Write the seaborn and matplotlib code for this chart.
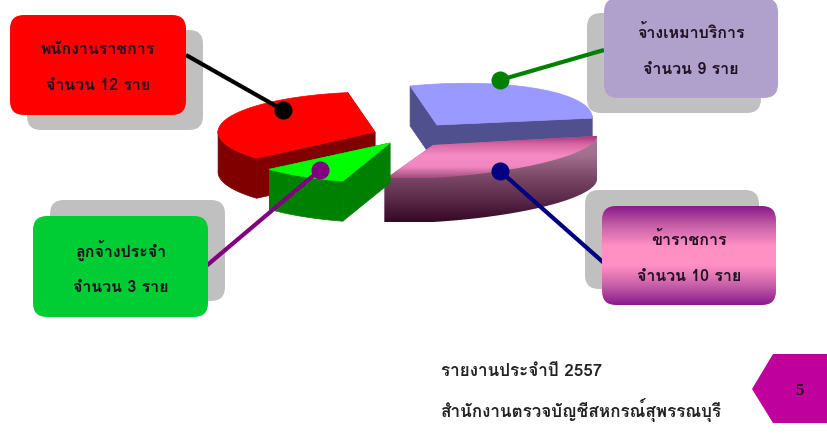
import numpy as np
import matplotlib
matplotlib.use('Agg')
import matplotlib.pyplot as plt
from matplotlib import font_manager
from matplotlib.colors import LinearSegmentedColormap
from matplotlib.patches import FancyBboxPatch, Polygon
import seaborn as sns

# data
groups = ['จ้างเหมาบริการ', 'ข้าราชการ', 'ลูกจ้างประจำ', 'พนักงานราชการ']
counts = [9, 10, 3, 12]
count_labels = ['จำนวน 9 ราย', 'จำนวน 10 ราย', 'จำนวน 3 ราย', 'จำนวน 12 ราย']
footer_lines = ['รายงานประจำปี 2557', 'สำนักงานตรวจบัญชีสหกรณ์สุพรรณบุรี']
page_number = '5'

sns.set_theme(style='white')

# pick a font that has thai, if there is one
thai_font = None
for f in font_manager.fontManager.ttflist:
    if any(k in f.name for k in ['Thai', 'Loma', 'Garuda', 'Norasi', 'Tlwg', 'Sarabun']):
        thai_font = f.name
        break
families = ([thai_font] if thai_font else []) + ['Noto Sans', 'DejaVu Sans']
plt.rcParams['font.family'] = families

fig = plt.figure(figsize=(8.28, 4.4), dpi=100)
ax = fig.add_axes([0, 0, 1, 1])
ax.axis('off')


def rim(cx, cy, rx, ry, tilt, a0, a1):
    t = np.radians(np.linspace(a0, a1, 80))
    x = rx * np.cos(t)
    return np.column_stack([cx + x, cy + ry * np.sin(t) + tilt * x])


def fill_grad(poly, cmap, y0, y1, z):
    # vertical gradient clipped to a polygon
    patch = Polygon(poly, closed=True, fc='none', ec='none', transform=ax.transData)
    ax.add_patch(patch)
    im = ax.imshow(np.linspace(0, 1, 256).reshape(-1, 1), cmap=cmap, aspect='auto',
                   extent=[poly[:, 0].min() - 1, poly[:, 0].max() + 1, y1, y0], zorder=z)
    im.set_clip_path(patch)


def wedge(cx, cy, rx, ry, tilt, h, a0, a1):
    arc = rim(cx, cy, rx, ry, tilt, a0, a1)
    down = np.array([0, h])
    faces = []
    # the two cut faces
    for p in (arc[0], arc[-1]):
        faces.append(np.array([[cx, cy], p, p + down, [cx, cy + h]]))
    # outer edge, only the front half shows
    front = arc[np.sin(np.radians(np.linspace(a0, a1, 80))) > -0.05]
    if len(front):
        faces.append(np.vstack([front, (front + down)[::-1]]))
    top_poly = np.vstack([[[cx, cy]], arc])
    return faces, top_poly


start = 266
back_lean = 6  # perspective: the edge at the back leans to the left
cuts = np.cumsum([0] + counts) / sum(counts) * 360 + start
pal = sns.color_palette(['#9999ff', '#ff88c0', '#00ff00', '#ff0000'])
side_cols = ['#50508f', '#7a4060', '#008000', '#800000']
# cx, cy, rx, ry, tilt, height
shapes = [(437, 125, 155, 41, -0.05, 40), (433, 145, 164, 33, -0.06, 44),
          (390, 143, 160, 40, 0, 40), (375, 132, 157, 40, 0, 40)]

pink_top = LinearSegmentedColormap.from_list('pt', ['#98246a', '#d868a4', '#f58ac4', '#f088c0', '#a04c7c'])
pink_side = LinearSegmentedColormap.from_list('ps', ['#a87a96', '#a0708e', '#7a4866', '#5a2a48', '#340824'])

# back to front: red, blue, pink, green
for z, i in zip([3, 4, 5, 6], [3, 0, 1, 2]):
    cx, cy, rx, ry, tilt, h = shapes[i]
    a0 = cuts[i] - (back_lean if i == 0 else 0)
    a1 = cuts[i + 1] - (back_lean if i == 3 else 0)
    faces, top_poly = wedge(cx, cy, rx, ry, tilt, h, a0, a1)
    if i == 1:
        for f in faces:
            fill_grad(f, pink_side, 133, 222, z)
        fill_grad(top_poly, pink_top, 133, 178, z + 0.1)
    else:
        for f in faces:
            ax.add_patch(Polygon(f, closed=True, fc=side_cols[i], ec=side_cols[i], lw=0.5, zorder=z))
        ax.add_patch(Polygon(top_poly, closed=True, fc=pal[i], ec=pal[i], lw=0.5, zorder=z + 0.1))

# boxes: x, y, w, h, shadow dx, dy
boxes = {
    3: (10, 15, 176, 100, 17, 15, '#ff0000'),
    0: (604, -2, 174, 100, -17, 15, '#b0a0cc'),
    2: (33, 216, 175, 101, 17, -16, '#00cc33'),
    1: (602, 206, 174, 99, -17, -16, None),
}
for i, (x, y, w, hh, dx, dy, col) in boxes.items():
    ax.add_patch(FancyBboxPatch((x + dx, y + dy), w, hh, boxstyle='round,pad=0,rounding_size=14',
                                fc='#c0c0c0', ec='none', zorder=1))

# leader lines
leaders = {3: ((186, 55), (283, 110), 'black'), 0: ((604, 50), (500, 80), '#008000'),
           2: ((205, 267), (320, 170), '#800080'), 1: ((604, 263), (500, 171), '#000080')}
for i, (p0, p1, col) in leaders.items():
    ax.plot([p0[0], p1[0]], [p0[1], p1[1]], color=col, lw=3, solid_capstyle='butt', zorder=8)
    ax.plot([p1[0]], [p1[1]], 'o', ms=13, color=col, mec='none', zorder=8)

for i, (x, y, w, hh, dx, dy, col) in boxes.items():
    if col is None:
        b = FancyBboxPatch((x, y), w, hh, boxstyle='round,pad=0,rounding_size=14', fc='none', ec='none', zorder=9)
        ax.add_patch(b)
        cm = LinearSegmentedColormap.from_list('pb', ['#8a1a8a', '#c860a8', '#ff90c4', '#ff90c4', '#c860a8', '#8a1a8a'])
        im = ax.imshow(np.linspace(0, 1, 256).reshape(-1, 1), cmap=cm, aspect='auto',
                       extent=[x, x + w, y + hh, y], zorder=9)
        im.set_clip_path(b)
    else:
        ax.add_patch(FancyBboxPatch((x, y), w, hh, boxstyle='round,pad=0,rounding_size=14',
                                    fc=col, ec='none', zorder=9))
    cx = x + w / 2
    ax.text(cx, y + hh * 0.34, groups[i], ha='center', va='center', fontsize=11.5,
            fontweight='bold', color='#201020', zorder=10)
    ax.text(cx, y + hh * 0.71, count_labels[i], ha='center', va='center', fontsize=11.5,
            fontweight='bold', color='#201020', zorder=10)

# footer
ax.text(441, 372, footer_lines[0], ha='left', va='center', fontsize=12.3, fontweight='bold', color='#222222')
ax.text(441, 410, footer_lines[1], ha='left', va='center', fontsize=12.3, fontweight='bold', color='#222222')
ax.add_patch(Polygon([(752, 389), (773, 354), (828, 354), (828, 423), (773, 423)], closed=True,
                     fc='#c0009c', ec='none'))
ax.text(799, 391, page_number, ha='center', va='center', fontsize=12, fontweight='bold',
        family='Liberation Serif', color='#201020')

ax.set_xlim(0, 828)
ax.set_ylim(440, 0)
fig.savefig('out.png', dpi=100)
